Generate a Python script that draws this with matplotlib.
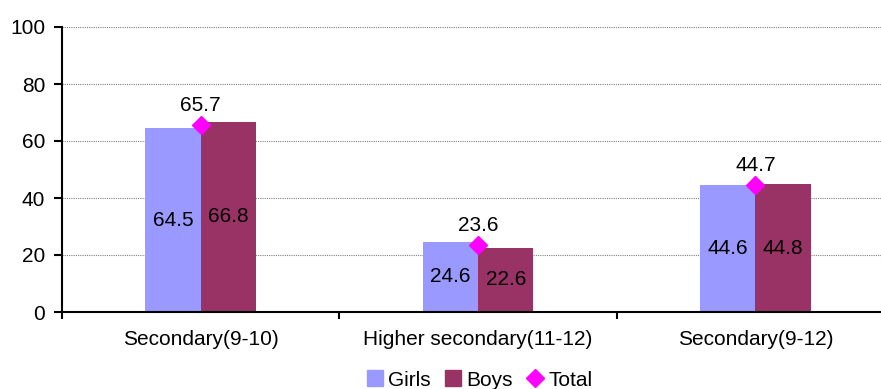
import numpy as np
import matplotlib.pyplot as plt
from matplotlib.lines import Line2D

plt.rcParams['font.family'] = ['Liberation Sans', 'DejaVu Sans']

categories = ["Secondary(9-10)", "Higher secondary(11-12)", "Secondary(9-12)"]
girls = [64.5, 24.6, 44.6]
boys = [66.8, 22.6, 44.8]
total = [65.7, 23.6, 44.7]

GIRLS_COLOR = "#9999FF"
BOYS_COLOR = "#993366"
TOTAL_COLOR = "#FF00FF"
FS = 15

fig = plt.figure(figsize=(8.81, 3.89), dpi=100)
W, H = 881, 389
x0, x1, ytop, ybot = 62, 894, 27, 312
ax = fig.add_axes([x0 / W, 1 - ybot / H, (x1 - x0) / W, (ybot - ytop) / H])

x = np.arange(len(categories)) + 0.5
bw = 0.2
ax.bar(x - bw / 2, girls, bw, color=GIRLS_COLOR, zorder=2)
ax.bar(x + bw / 2, boys, bw, color=BOYS_COLOR, zorder=2)
ax.plot(x, total, linestyle="none", marker="D", markersize=9,
        color=TOTAL_COLOR, zorder=3)

for xi, g, b, t in zip(x, girls, boys, total):
    ax.text(xi - bw / 2, g / 2, f"{g}", ha="center", va="center", fontsize=FS)
    ax.text(xi + bw / 2, b / 2, f"{b}", ha="center", va="center", fontsize=FS)
    ax.annotate(f"{t}", (xi, t), xytext=(0, 7), textcoords="offset points",
                ha="center", va="bottom", fontsize=FS)

ax.set_xlim(0, 3)
ax.set_ylim(0, 100)
ax.set_yticks(range(0, 101, 20))
ax.yaxis.grid(True, linestyle=(0, (1, 1)), color="#808080", linewidth=0.8, zorder=0)
ax.set_xticks([0, 1, 2, 3])
ax.set_xticklabels([])
ax.set_xticks(x, minor=True)
ax.set_xticklabels(categories, minor=True, fontsize=FS)
ax.tick_params(axis="x", which="minor", length=0, pad=13)
ax.tick_params(axis="x", which="major", length=5, width=1.5, direction="out")
ax.tick_params(axis="y", length=6, width=1.5, labelsize=FS, pad=6)
for s in ["top", "right"]:
    ax.spines[s].set_visible(False)
for s in ["left", "bottom"]:
    ax.spines[s].set_linewidth(1.5)

# legend centred under the axes, not the figure
handles = [
    Line2D([], [], linestyle="none", marker="s", markersize=11, color=GIRLS_COLOR),
    Line2D([], [], linestyle="none", marker="s", markersize=11, color=BOYS_COLOR),
    Line2D([], [], linestyle="none", marker="D", markersize=9, color=TOTAL_COLOR),
]
fig.legend(handles, ["Girls", "Boys", "Total"], loc="center",
           bbox_to_anchor=((x0 + x1) / 2 / W, 1 - 380 / H),
           ncol=3, frameon=False, fontsize=FS, handletextpad=0.1,
           columnspacing=0.5, handlelength=1.1)

fig.savefig("out.png", dpi=100)
